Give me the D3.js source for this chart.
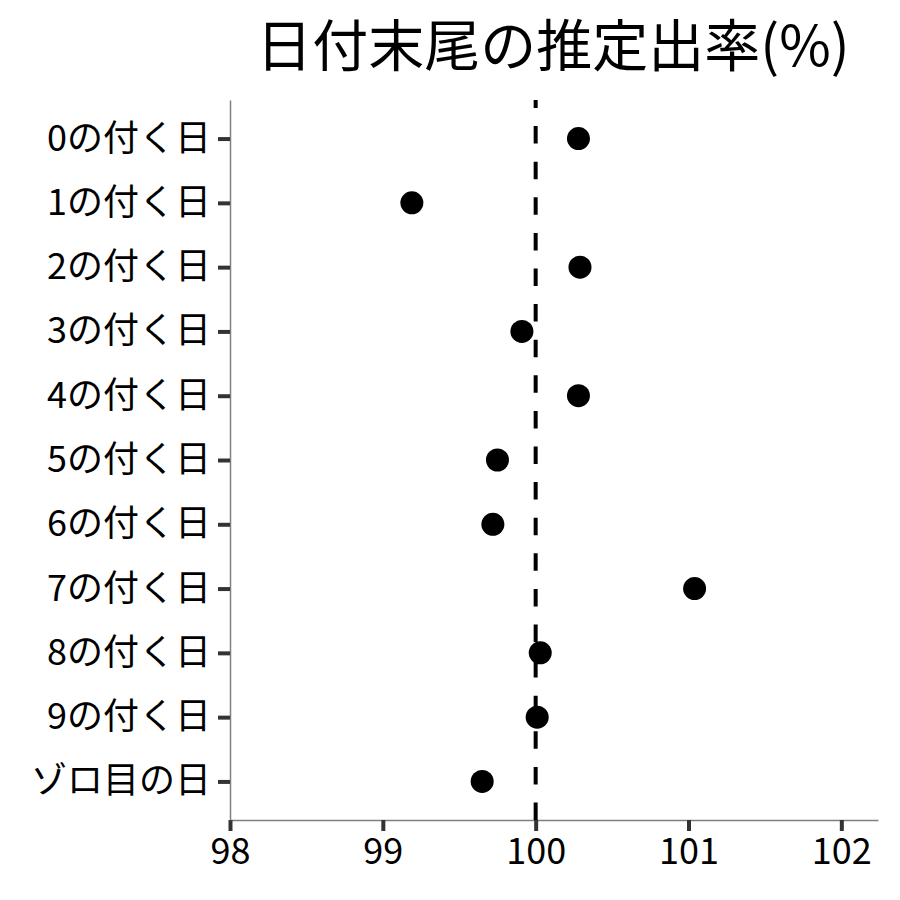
<!DOCTYPE html>
<html>
<head>
<meta charset="utf-8">
<script src="https://cdn.jsdelivr.net/npm/d3@7"></script>
<style>
  html, body { margin: 0; padding: 0; background: #fff; }
  text { font-family: "Noto Sans CJK JP", "Noto Sans", sans-serif; }
</style>
</head>
<body>
<svg id="chart" width="900" height="900"></svg>
<script>
const title = "日付末尾の推定出率(%)";
const categories = ["0の付く日","1の付く日","2の付く日","3の付く日","4の付く日","5の付く日","6の付く日","7の付く日","8の付く日","9の付く日","ゾロ目の日"];
const values = [100.28, 99.19, 100.29, 99.91, 100.28, 99.75, 99.72, 101.04, 100.03, 100.01, 99.65];
const xTicks = [98, 99, 100, 101, 102];
const xDomain = [98, 102.24];
const refValue = 100;

const svg = d3.select("#chart");
const margin = {left: 230, right: 22, top: 100, bottom: 80};
const W = 900, H = 900;
const x = d3.scaleLinear().domain(xDomain).range([margin.left, W - margin.right]);
const y = d3.scalePoint().domain(categories).range([margin.top, H - margin.bottom]).padding(0.6);

// title
svg.append("text")
  .attr("x", (margin.left + W - margin.right) / 2 - 1)
  .attr("y", 65.5)
  .attr("text-anchor", "middle")
  .attr("font-size", 56)
  .attr("fill", "#000")
  .text(title);

// x axis
const xAxis = svg.append("g")
  .attr("transform", `translate(0,${H - margin.bottom})`)
  .call(d3.axisBottom(x).tickValues(xTicks).tickFormat(d3.format("d")).tickSizeInner(11).tickSizeOuter(0).tickPadding(7));
xAxis.select(".domain").attr("stroke", "#808080").attr("stroke-width", 1.5);
xAxis.selectAll(".tick line").attr("stroke", "#333").attr("stroke-width", 4);
xAxis.selectAll(".tick text").attr("font-size", 36).attr("fill", "#000")
  .attr("font-family", '"Noto Sans CJK JP", sans-serif');

// y axis
const yAxis = svg.append("g")
  .attr("transform", `translate(${margin.left},0)`)
  .call(d3.axisLeft(y).tickSizeInner(12).tickSizeOuter(0).tickPadding(7));
yAxis.select(".domain").attr("stroke", "#808080").attr("stroke-width", 1.5);
yAxis.selectAll(".tick line").attr("stroke", "#333").attr("stroke-width", 4);
yAxis.selectAll(".tick text").attr("font-size", 36).attr("fill", "#000")
  .attr("font-family", '"Noto Sans CJK JP", sans-serif');

// reference line (drawn from bottom up)
svg.append("line")
  .attr("x1", x(refValue)).attr("x2", x(refValue))
  .attr("y1", H - margin.bottom).attr("y2", margin.top)
  .attr("stroke", "#000").attr("stroke-width", 4)
  .attr("stroke-dasharray", "17.5,18.1");

// points
svg.append("g").selectAll("circle")
  .data(categories.map((c, i) => ({c, v: values[i]})))
  .join("circle")
  .attr("cx", d => x(d.v))
  .attr("cy", d => y(d.c))
  .attr("r", 11.5)
  .attr("fill", "#000");
</script>
</body>
</html>
